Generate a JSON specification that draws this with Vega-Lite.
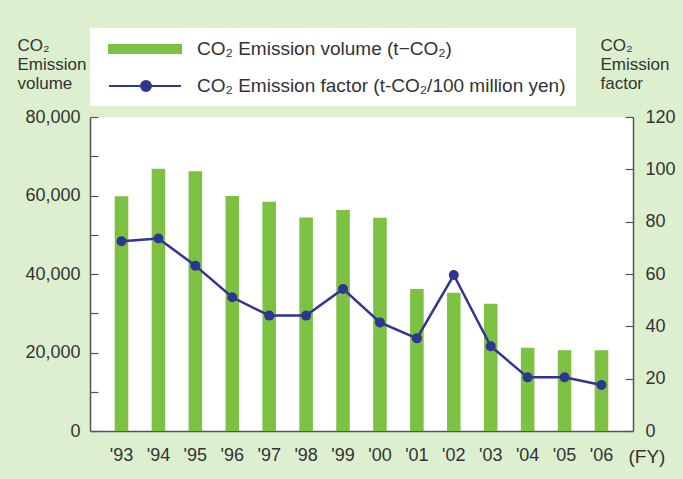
{
  "$schema": "https://vega.github.io/schema/vega-lite/v6.json",
  "width": 543,
  "height": 314,
  "autosize": {"type": "none"},
  "padding": {"left": 90, "top": 117, "right": 50, "bottom": 48},
  "background": "#dcefcf",
  "config": {
    "view": {"fill": "white", "stroke": null},
    "font": "Liberation Sans",
    "axis": {
      "labelFont": "Liberation Sans",
      "labelFontSize": 18,
      "labelColor": "#333333",
      "titleFont": "Liberation Sans",
      "titleFontSize": 17,
      "titleFontWeight": "normal",
      "titleColor": "#333333",
      "domainColor": "#555555",
      "domainWidth": 1.5,
      "tickColor": "#555555",
      "tickWidth": 1.2,
      "grid": false
    }
  },
  "data": {
    "values": [
      {"fy": "'93", "volume": 59800, "factor": 72.5},
      {"fy": "'94", "volume": 66800, "factor": 73.6},
      {"fy": "'95", "volume": 66200, "factor": 63.2},
      {"fy": "'96", "volume": 59900, "factor": 51.1},
      {"fy": "'97", "volume": 58400, "factor": 44.1},
      {"fy": "'98", "volume": 54400, "factor": 44.1},
      {"fy": "'99", "volume": 56300, "factor": 54.3},
      {"fy": "'00", "volume": 54300, "factor": 41.5},
      {"fy": "'01", "volume": 36200, "factor": 35.4},
      {"fy": "'02", "volume": 35200, "factor": 59.6},
      {"fy": "'03", "volume": 32400, "factor": 32.4},
      {"fy": "'04", "volume": 21200, "factor": 20.5},
      {"fy": "'05", "volume": 20600, "factor": 20.5},
      {"fy": "'06", "volume": 20600, "factor": 17.6}
    ]
  },
  "encoding": {
    "x": {
      "field": "fy",
      "type": "ordinal",
      "sort": null,
      "scale": {"paddingInner": 0.633, "paddingOuter": 0.67},
      "axis": {
        "title": "(FY)",
        "titleX": 538,
        "titleY": 25,
        "titleAlign": "left",
        "titleBaseline": "middle",
        "titleFontSize": 19,
        "titleAngle": 0,
        "labelAngle": 0,
        "ticks": false,
        "labelPadding": 15,
        "labelFontSize": 18
      }
    }
  },
  "layer": [
    {
      "mark": {"type": "bar"},
      "encoding": {
        "y": {
          "field": "volume",
          "type": "quantitative",
          "scale": {"domain": [0, 80000], "nice": false},
          "axis": {
            "values": [0, 10000, 20000, 30000, 40000, 50000, 60000, 70000, 80000],
            "format": ",d",
            "labelExpr": "datum.value % 20000 === 0 ? datum.label : ''",
            "tickSize": -8,
            "labelPadding": 18,
            "title": ["CO₂", "Emission", "volume"],
            "titleAngle": 0,
            "titleAlign": "left",
            "titleBaseline": "top",
            "titleX": -73,
            "titleY": -80,
            "titleLineHeight": 19
          }
        },
        "color": {
          "datum": "CO₂ Emission volume (t−CO₂)",
          "scale": {
            "domain": ["CO₂ Emission volume (t−CO₂)", "CO₂ Emission factor (t-CO₂/100 million yen)"],
            "range": ["#7cc142", "#2e3592"]
          },
          "legend": {
            "title": null,
            "orient": "none",
            "legendX": 0,
            "legendY": -89,
            "fillColor": "white",
            "padding": 10,
            "symbolSize": 400,
            "labelFont": "Liberation Sans",
            "labelFontSize": 19,
            "labelColor": "#333333",
            "labelOffset": 75,
            "labelLimit": 600,
            "rowPadding": 16,
            "encode": {
              "symbols": {
                "update": {
                  "shape": {"signal": "datum.index === 0 ? 'M-0.2,-0.4H7V0.4H-0.2Z' : 'M-0.2,0H7M3,0A0.5,0.5 0 1,0 4,0A0.5,0.5 0 1,0 3,0Z'"},
                  "fill": {"signal": "datum.index === 0 ? '#7cc142' : '#2e3592'"},
                  "stroke": {"signal": "datum.index === 0 ? 'transparent' : '#2e3592'"},
                  "strokeWidth": {"value": 2},
                  "opacity": {"value": 1},
                  "fillOpacity": {"value": 1}
                }
              }
            }
          }
        }
      }
    },
    {
      "mark": {"type": "line", "strokeWidth": 2.5, "point": {"filled": true, "size": 100, "opacity": 1}},
      "encoding": {
        "y": {
          "field": "factor",
          "type": "quantitative",
          "scale": {"domain": [0, 120], "nice": false},
          "axis": {
            "orient": "right",
            "values": [0, 20, 40, 60, 80, 100, 120],
            "tickSize": -8,
            "labelPadding": 20,
            "title": ["CO₂", "Emission", "factor"],
            "titleAngle": 0,
            "titleAlign": "left",
            "titleBaseline": "top",
            "titleX": -33,
            "titleY": -80,
            "titleLineHeight": 19
          }
        },
        "color": {"datum": "CO₂ Emission factor (t-CO₂/100 million yen)"}
      }
    }
  ],
  "resolve": {"scale": {"y": "independent"}}
}
